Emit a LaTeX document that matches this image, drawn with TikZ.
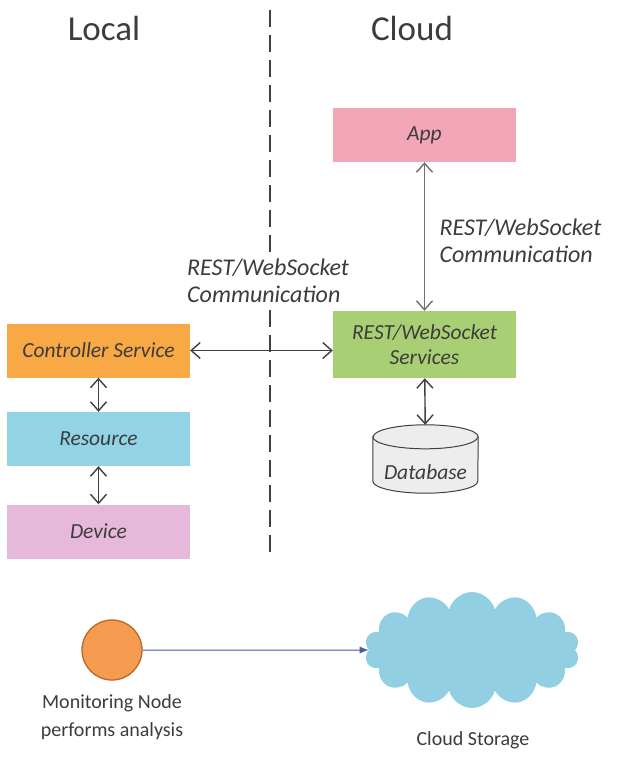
\documentclass[tikz,border=0pt]{standalone}
\usepackage{fontspec}
\setmainfont{Carlito}
\usetikzlibrary{arrows.meta,shapes.symbols}
\definecolor{appc}{HTML}{F3A6B5}
\definecolor{svcc}{HTML}{A9CF74}
\definecolor{ctrlc}{HTML}{F9A846}
\definecolor{resc}{HTML}{93D3E6}
\definecolor{devc}{HTML}{E6B9DB}
\definecolor{cldc}{HTML}{93CFE3}
\definecolor{monc}{HTML}{F59B50}
\definecolor{mond}{HTML}{B8692E}
\definecolor{txt}{HTML}{3C3C3C}
\definecolor{arr}{HTML}{404040}
\definecolor{bluearr}{HTML}{4A5E9E}
\begin{document}
\begin{tikzpicture}[x=1pt,y=-1pt,
   box/.style={minimum width=183pt,minimum height=54pt,inner sep=0pt,
     font=\fontsize{21.5}{25}\selectfont\itshape,text=txt,align=center},
   link/.style={{Straight Barb[length=9pt,width=16pt]}-{Straight Barb[length=9pt,width=16pt]},
     line width=1.4pt,draw=arr},
   lbl/.style={font=\fontsize{24}{27}\selectfont\itshape,text=txt,align=left},
   plain/.style={font=\fontsize{20}{28}\selectfont,text=txt,align=center},
   rim/.style={x radius=52.5pt,y radius=12pt}]

\useasboundingbox (0,0) rectangle (619,769);

\node[font=\fontsize{35}{38}\selectfont,text=txt] (local) at (104,28) {Local};
\node[font=\fontsize{35}{38}\selectfont,text=txt] (cloud) at (412,28) {Cloud};
\coordinate (top) at (270,10);
\coordinate (bot) at (270,556);
\draw[arr,line width=1.5pt,dash pattern=on 17pt off 8pt] (top) -- (bot);

\node[box,fill=appc] (app) at (424.5,135) {App};
\node[box,fill=svcc,minimum height=67pt] (svc) at (424.5,344.5) {REST/WebSocket\\Services};
\node[box,fill=ctrlc] (ctrl) at (98.5,350.5) {Controller Service};
\node[box,fill=resc] (res) at (98.5,439) {Resource};
\node[box,fill=devc] (dev) at (98.5,531.5) {Device};

% database drum
\node[minimum width=105pt,minimum height=68pt,inner sep=0pt] (db) at (425.5,459) {};
\filldraw[fill=black!7,draw=arr,line width=1pt]
  ([yshift=-12pt]db.north west) -- ([yshift=12pt]db.south west)
  arc[rim,start angle=180,end angle=360] -- ([yshift=-12pt]db.north east)
  arc[rim,start angle=0,end angle=180] -- cycle;
\draw[arr,line width=1pt] ([yshift=-12pt]db.north west) arc[rim,start angle=180,end angle=360];
\node[font=\fontsize{21.5}{25}\selectfont\itshape,text=txt] (dbtext) at ([yshift=-13pt]db.center) {Database};

\node[lbl,anchor=west,fill=white,inner sep=1pt] (lblleft) at (186,281) {REST/WebSocket\\Communication};
\node[lbl,anchor=west] (lblright) at (436,241) {REST/WebSocket\\Communication};

\draw[link,draw=arr!75] (app) -- (svc);
\draw[link] (svc) -- (db);
\draw[link] (ctrl.east) -- (ctrl.east -| svc.west);
\draw[link] (ctrl) -- (res);
\draw[link] (res) -- (dev);

% monitoring part
\node[circle,fill=monc,draw=mond,line width=1.3pt,minimum size=60pt] (mon) at (112,650) {};
\node[plain] (monlbl) at (112,717) {Monitoring Node\\performs analysis};
\node[cloud,cloud puffs=14,aspect=1.9,fill=cldc,minimum width=215pt,minimum height=116pt] (stor) at (472,650) {};
\node[plain] (storlbl) at (473,740) {Cloud Storage};
\draw[-{Latex[length=9pt,width=7pt]},draw=bluearr,fill=bluearr,line width=1pt] (mon) -- (stor);

\end{tikzpicture}
\end{document}
